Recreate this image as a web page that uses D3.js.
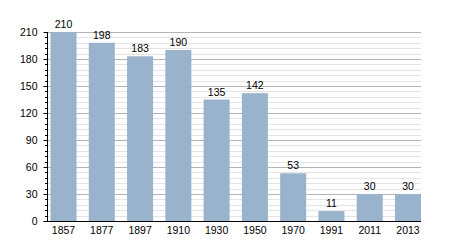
<!DOCTYPE html>
<html>
<head>
<meta charset="utf-8">
<script src="https://cdn.jsdelivr.net/npm/d3@7"></script>
<style>
  body { margin: 0; background: #fff; }
  svg { display: block; font-family: "Liberation Sans", Arial, sans-serif; }
</style>
</head>
<body>
<div id="chart"></div>
<script>
var years = ["1857", "1877", "1897", "1910", "1930", "1950", "1970", "1991", "2011", "2013"];
var population = [210, 198, 183, 190, 135, 142, 53, 11, 30, 30];
var yTicks = [0, 30, 60, 90, 120, 150, 180, 210];

var width = 450, height = 250;
var plotLeft = 47, plotTop = 32, plotBottom = 221, plotRight = 421;

var svg = d3.select("#chart").append("svg")
    .attr("width", width)
    .attr("height", height);

var x = d3.scaleBand()
    .domain(years)
    .range([50.5, plotRight])
    .paddingInner(0.32)
    .paddingOuter(0);

var y = d3.scaleLinear()
    .domain([0, 210])
    .range([plotBottom, plotTop]);

// minor grid every 6
var minor = d3.range(6, 211, 6).filter(function (d) { return d % 30 != 0; });
svg.append("g").selectAll("line")
    .data(minor)
    .enter().append("line")
    .attr("x1", plotLeft).attr("x2", plotRight)
    .attr("y1", function (d) { return Math.round(y(d)) + 0.5; })
    .attr("y2", function (d) { return Math.round(y(d)) + 0.5; })
    .style("stroke", "#e4e4e4");

// major grid
svg.append("g").selectAll("line")
    .data(yTicks.slice(1))
    .enter().append("line")
    .attr("x1", plotLeft).attr("x2", plotRight)
    .attr("y1", function (d) { return Math.round(y(d)) + 0.5; })
    .attr("y2", function (d) { return Math.round(y(d)) + 0.5; })
    .style("stroke", "#b4b4b4");

// bars
svg.append("g").selectAll("rect")
    .data(population)
    .enter().append("rect")
    .attr("x", function (d, i) { return x(years[i]); })
    .attr("y", function (d) { return y(d); })
    .attr("width", x.bandwidth())
    .attr("height", function (d) { return plotBottom - y(d); })
    .style("fill", "#9ab3cc");

// value labels
svg.append("g").selectAll("text")
    .data(population)
    .enter().append("text")
    .attr("x", function (d, i) { return x(years[i]) + x.bandwidth() / 2; })
    .attr("y", function (d) { return y(d) - 4; })
    .attr("text-anchor", "middle")
    .style("font-size", "10.5px")
    .style("fill", "#000")
    .text(function (d) { return d; });

// y axis
var yAxis = d3.axisLeft(y)
    .tickValues(yTicks)
    .tickSize(4)
    .tickPadding(6);
var ga = svg.append("g")
    .attr("transform", "translate(" + (plotLeft + 0.5) + ",0)")
    .call(yAxis);
ga.attr("font-family", null).attr("font-size", null);
ga.select(".domain").attr("d", "M0," + plotTop + "V" + plotBottom).style("stroke", "#000");
ga.selectAll(".tick text").style("font-size", "10.5px").style("fill", "#000");

// minor y ticks
svg.append("g").selectAll("line")
    .data(minor)
    .enter().append("line")
    .attr("x1", plotLeft - 2).attr("x2", plotLeft + 0.5)
    .attr("y1", function (d) { return Math.round(y(d)) + 0.5; })
    .attr("y2", function (d) { return Math.round(y(d)) + 0.5; })
    .style("stroke", "#000");

// x axis line
svg.append("line")
    .attr("x1", plotLeft).attr("x2", plotRight)
    .attr("y1", plotBottom + 0.5).attr("y2", plotBottom + 0.5)
    .style("stroke", "#000");

// x labels
svg.append("g").selectAll("text")
    .data(years)
    .enter().append("text")
    .attr("x", function (d) { return x(d) + x.bandwidth() / 2; })
    .attr("y", plotBottom + 13)
    .attr("text-anchor", "middle")
    .style("font-size", "10.5px")
    .style("fill", "#000")
    .text(function (d) { return d; });
</script>
</body>
</html>
